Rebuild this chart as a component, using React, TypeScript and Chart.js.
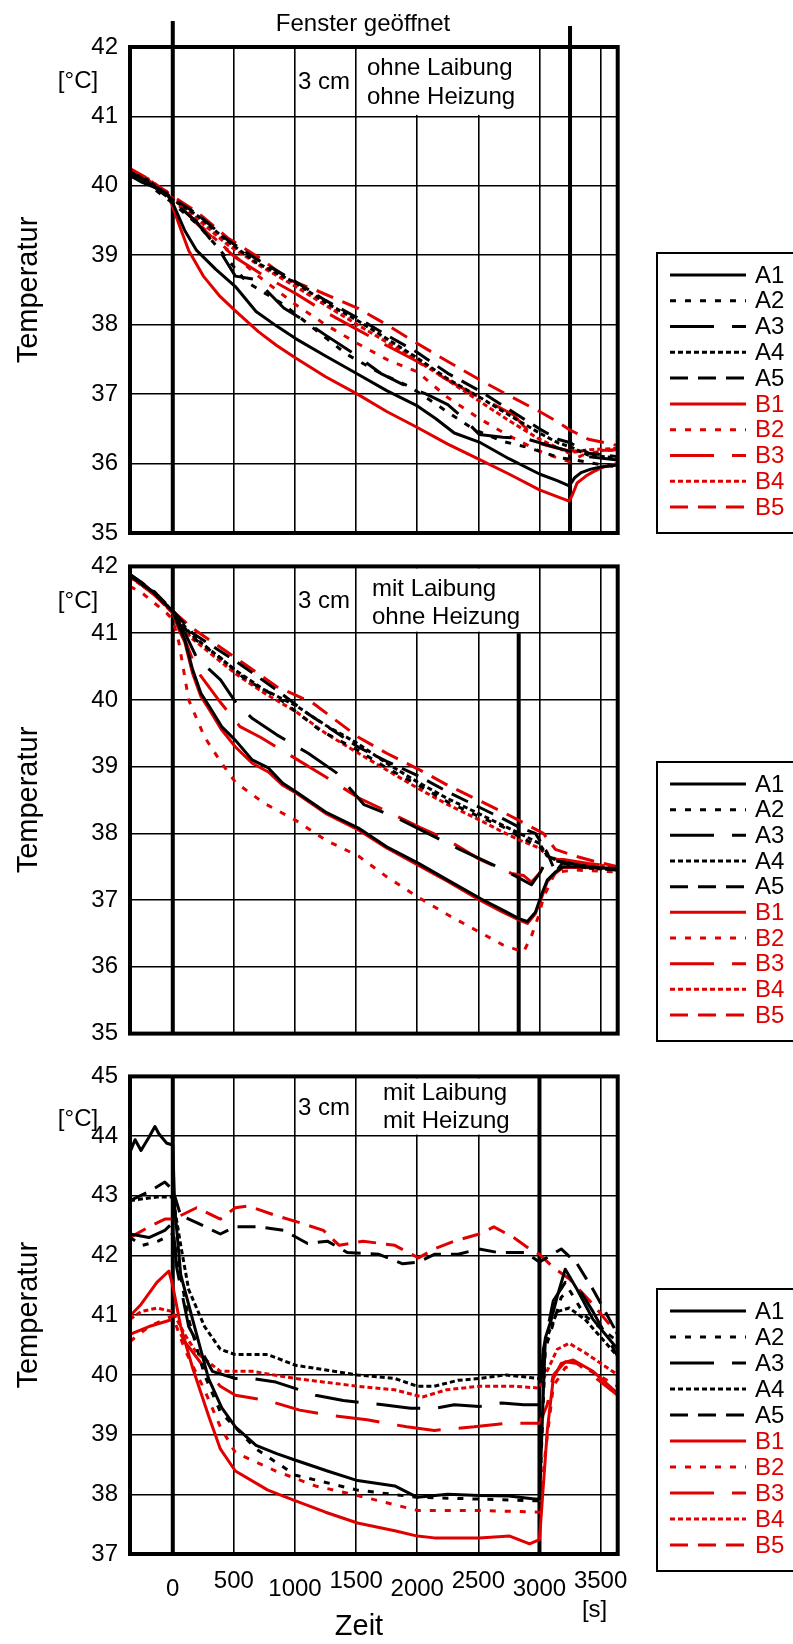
import React, { useEffect, useRef } from 'react';
import { Chart, registerables } from 'chart.js';

Chart.register(...registerables);

type Pt = [number, number];

const FONT = '"Liberation Sans", Arial, Helvetica, sans-serif';
const BLACK = '#000000';
const RED = '#e00000';

const SERIES_NAMES = ['A1', 'A2', 'A3', 'A4', 'A5', 'B1', 'B2', 'B3', 'B4', 'B5'];
const X_TICKS = [0, 500, 1000, 1500, 2000, 2500, 3000, 3500];
const X_TICK_LABELS = ['0', '500', '1000', '1500', '2000', '2500', '3000', '3500'];
const X_MIN = -350;
const X_MAX = 3640;

// ---------- Panel 1: ohne Laibung, ohne Heizung ----------
const P1_A1: Pt[] = [[-350,40.15],[-250,40.05],[-150,39.98],[-50,39.9],[0,39.75],[100,39.35],[195,39.07],[350,38.8],[512,38.55],[681,38.19],[850,37.98],[1005,37.8],[1250,37.55],[1511,37.29],[1750,37.05],[2001,36.83],[2150,36.65],[2303,36.44],[2507,36.31],[2750,36.07],[3000,35.85],[3150,35.75],[3243,35.68],[3290,35.8],[3340,35.87],[3420,35.92],[3502,35.95],[3640,35.98]];
const P1_A2: Pt[] = [[-350,40.15],[-200,40.02],[0,39.75],[200,39.45],[389,39.07],[600,38.62],[908,38.29],[1150,37.95],[1427,37.57],[1700,37.3],[1946,37.1],[2200,36.8],[2465,36.49],[2700,36.32],[2886,36.24],[3050,36.15],[3178,36.08],[3300,36.05],[3450,36.0],[3640,35.95]];
const P1_A3: Pt[] = [[-350,40.2],[-200,40.05],[0,39.78],[195,39.48],[389,39.05],[512,38.7],[681,38.65],[908,38.24],[1038,38.1],[1250,37.85],[1492,37.57],[1700,37.3],[1881,37.14],[2075,37.0],[2250,36.85],[2367,36.67],[2507,36.42],[2700,36.38],[2886,36.36],[3100,36.25],[3243,36.18],[3400,36.1],[3640,36.05]];
const P1_A4: Pt[] = [[-350,40.2],[-200,40.08],[0,39.8],[195,39.58],[450,39.2],[681,38.9],[1005,38.6],[1250,38.32],[1511,38.06],[1750,37.8],[2001,37.52],[2250,37.22],[2507,36.96],[2750,36.7],[3000,36.44],[3150,36.3],[3253,36.24],[3400,36.12],[3640,36.08]];
const P1_A5: Pt[] = [[-350,40.18],[-200,40.06],[0,39.82],[195,39.6],[450,39.22],[681,38.95],[1005,38.62],[1250,38.35],[1511,38.1],[1750,37.85],[2001,37.6],[2250,37.3],[2507,37.05],[2750,36.78],[3000,36.5],[3150,36.35],[3253,36.3],[3400,36.15],[3640,36.1]];
const P1_B1: Pt[] = [[-350,40.25],[-250,40.12],[-150,40.0],[-50,39.92],[0,39.7],[60,39.4],[130,39.07],[250,38.7],[380,38.42],[512,38.2],[700,37.9],[850,37.7],[1005,37.52],[1250,37.25],[1511,37.0],[1750,36.75],[2001,36.52],[2250,36.28],[2507,36.06],[2750,35.85],[3000,35.62],[3150,35.52],[3243,35.46],[3270,35.55],[3308,35.72],[3380,35.82],[3438,35.88],[3520,35.95],[3640,36.0]];
const P1_B2: Pt[] = [[-350,40.2],[-200,40.05],[0,39.8],[150,39.55],[389,39.17],[700,38.7],[1005,38.29],[1250,38.0],[1511,37.73],[1750,37.5],[2001,37.32],[2250,36.95],[2507,36.65],[2750,36.4],[3000,36.18],[3150,36.08],[3243,36.03],[3350,36.12],[3500,36.18],[3640,36.2]];
const P1_B3: Pt[] = [[-350,40.22],[-200,40.08],[0,39.82],[200,39.45],[519,38.96],[750,38.7],[1005,38.45],[1250,38.18],[1511,37.93],[1750,37.7],[2001,37.47],[2250,37.2],[2507,36.96],[2789,36.7],[3000,36.29],[3150,36.22],[3243,36.18],[3400,36.18],[3640,36.2]];
const P1_B4: Pt[] = [[-350,40.22],[-200,40.1],[0,39.82],[195,39.53],[450,39.15],[713,38.85],[1005,38.55],[1250,38.28],[1511,38.0],[1750,37.75],[2001,37.48],[2250,37.2],[2507,36.9],[2750,36.62],[3000,36.35],[3243,36.15],[3400,36.2],[3640,36.22]];
const P1_B5: Pt[] = [[-350,40.25],[-200,40.1],[0,39.85],[195,39.63],[450,39.25],[713,38.96],[950,38.65],[1167,38.5],[1511,38.24],[1750,38.0],[2001,37.73],[2250,37.47],[2507,37.21],[2750,36.98],[3000,36.75],[3150,36.6],[3243,36.49],[3400,36.35],[3640,36.26]];

// ---------- Panel 2: mit Laibung, ohne Heizung ----------
const P2_A1: Pt[] = [[-350,41.88],[-250,41.75],[-150,41.6],[-50,41.42],[0,41.32],[50,41.1],[98,40.9],[163,40.45],[230,40.1],[293,39.92],[400,39.6],[515,39.39],[650,39.1],[782,38.98],[900,38.75],[1011,38.62],[1250,38.32],[1519,38.08],[1750,37.8],[2011,37.55],[2250,37.3],[2520,37.02],[2700,36.85],[2836,36.72],[2901,36.68],[2967,36.82],[3020,37.1],[3064,37.3],[3130,37.42],[3195,37.5],[3358,37.5],[3640,37.47]];
const P2_A2: Pt[] = [[-350,41.86],[-150,41.6],[0,41.32],[150,40.95],[391,40.63],[600,40.3],[848,40.05],[1200,39.55],[1519,39.24],[1750,38.98],[2011,38.72],[2250,38.47],[2520,38.24],[2700,38.1],[2836,37.95],[3000,37.8],[3064,37.66],[3200,37.55],[3400,37.5],[3640,37.45]];
const P2_A3: Pt[] = [[-350,41.86],[-150,41.6],[0,41.32],[100,41.0],[196,40.63],[391,40.3],[520,39.95],[652,39.72],[848,39.48],[1108,39.2],[1337,38.91],[1565,38.43],[1826,38.24],[2086,38.0],[2347,37.76],[2608,37.54],[2836,37.33],[2934,37.23],[3000,37.4],[3064,37.61],[3195,37.57],[3400,37.5],[3640,37.45]];
const P2_A4: Pt[] = [[-350,41.87],[-150,41.6],[0,41.33],[150,40.98],[515,40.44],[750,40.15],[1011,39.91],[1250,39.62],[1519,39.34],[1750,39.05],[2011,38.76],[2250,38.52],[2520,38.28],[2700,38.12],[2836,38.0],[3000,37.85],[3064,37.66],[3200,37.55],[3400,37.48],[3640,37.45]];
const P2_A5: Pt[] = [[-350,41.88],[-150,41.62],[0,41.34],[163,41.0],[515,40.58],[848,40.15],[1100,39.8],[1519,39.29],[1750,39.08],[2011,38.86],[2250,38.62],[2520,38.38],[2700,38.22],[2836,38.09],[2967,38.0],[3064,37.71],[3130,37.42],[3195,37.57],[3400,37.5],[3640,37.45]];
const P2_B1: Pt[] = [[-350,41.85],[-250,41.72],[-150,41.57],[-50,41.4],[0,41.3],[50,41.05],[98,40.87],[163,40.39],[230,40.05],[293,39.87],[400,39.55],[515,39.29],[650,39.05],[782,38.92],[900,38.72],[1011,38.6],[1250,38.3],[1519,38.05],[1750,37.78],[2011,37.52],[2250,37.28],[2520,36.99],[2700,36.82],[2836,36.7],[2901,36.65],[2967,36.8],[3020,37.05],[3064,37.28],[3130,37.4],[3195,37.49],[3358,37.49],[3640,37.47]];
const P2_B2: Pt[] = [[-350,41.7],[-250,41.6],[-150,41.45],[-50,41.3],[0,41.2],[49,40.87],[130,40.0],[200,39.7],[261,39.44],[400,39.05],[515,38.76],[750,38.45],[1011,38.19],[1250,37.9],[1519,37.66],[1750,37.35],[2011,37.04],[2250,36.78],[2520,36.51],[2700,36.33],[2869,36.22],[2934,36.46],[3000,36.8],[3032,37.04],[3130,37.42],[3300,37.45],[3640,37.42]];
const P2_B3: Pt[] = [[-350,41.85],[-150,41.58],[0,41.3],[100,40.9],[196,40.44],[391,39.96],[550,39.6],[717,39.44],[978,39.15],[1239,38.86],[1532,38.52],[1695,38.38],[2021,38.09],[2249,37.9],[2510,37.61],[2771,37.4],[2869,37.37],[2934,37.27],[3000,37.4],[3064,37.61],[3195,37.61],[3400,37.55],[3640,37.5]];
const P2_B4: Pt[] = [[-350,41.84],[-150,41.58],[0,41.3],[150,40.93],[515,40.39],[750,40.1],[1011,39.82],[1250,39.5],[1519,39.2],[1750,38.95],[2011,38.67],[2250,38.43],[2520,38.19],[2700,38.02],[2836,37.9],[3000,37.78],[3064,37.66],[3250,37.55],[3640,37.5]];
const P2_B5: Pt[] = [[-350,41.86],[-150,41.6],[0,41.33],[163,41.07],[515,40.63],[848,40.2],[1141,39.96],[1519,39.44],[1750,39.2],[2011,38.96],[2250,38.72],[2520,38.48],[2700,38.32],[2836,38.19],[3032,38.0],[3130,37.76],[3293,37.66],[3450,37.58],[3640,37.5]];

// ---------- Panel 3: mit Laibung, mit Heizung ----------
const P3_A1: Pt[] = [[-350,43.73],[-308,43.94],[-260,43.76],[-195,43.98],[-146,44.16],[-114,44.04],[-49,43.88],[0,43.85],[16,42.8],[65,41.68],[162,40.93],[292,39.94],[400,39.45],[512,39.13],[681,38.82],[850,38.68],[1005,38.57],[1265,38.39],[1511,38.23],[1816,38.14],[2001,37.95],[2250,38.0],[2507,37.98],[2750,37.97],[2960,37.92],[3000,37.92],[3048,40.62],[3097,40.93],[3150,41.35],[3211,41.77],[3308,41.43],[3438,40.93],[3640,40.43]];
const P3_A2: Pt[] = [[-350,42.3],[-250,42.17],[-120,42.24],[0,42.36],[50,41.8],[130,40.93],[260,40.0],[389,39.38],[681,38.76],[1005,38.32],[1511,38.07],[2001,37.95],[2507,37.92],[3000,37.89],[3048,40.43],[3178,41.3],[3243,41.43],[3373,40.99],[3640,40.56]];
const P3_A3: Pt[] = [[-350,42.36],[-195,42.3],[-65,42.42],[0,42.55],[32,41.8],[130,40.81],[324,40.06],[512,39.94],[652,39.94],[843,39.88],[1038,39.75],[1167,39.66],[1395,39.57],[1719,39.5],[1946,39.44],[2140,39.44],[2303,39.5],[2507,39.47],[2692,39.53],[2870,39.5],[3000,39.5],[3032,40.43],[3113,41.24],[3211,41.55],[3308,41.49],[3438,41.06],[3640,40.31]];
const P3_A4: Pt[] = [[-350,42.92],[-130,42.98],[0,42.98],[65,42.17],[130,41.43],[260,40.81],[389,40.43],[512,40.34],[778,40.34],[1005,40.16],[1511,40.0],[1816,39.94],[2001,39.81],[2140,39.81],[2335,39.91],[2507,39.94],[2724,40.0],[3000,39.94],[3048,40.56],[3146,41.06],[3243,41.12],[3373,40.93],[3640,40.31]];
const P3_A5: Pt[] = [[-350,42.92],[-195,43.07],[-65,43.23],[0,43.1],[65,42.67],[195,42.55],[389,42.36],[512,42.48],[713,42.48],[908,42.42],[1103,42.2],[1265,42.24],[1427,42.05],[1686,42.02],[1881,41.86],[2011,41.89],[2140,42.02],[2335,42.02],[2507,42.11],[2660,42.05],[2886,42.05],[3000,41.89],[3178,42.11],[3308,41.86],[3438,41.43],[3640,40.68]];
const P3_B1: Pt[] = [[-350,40.99],[-260,41.18],[-130,41.55],[-32,41.74],[0,41.49],[65,40.81],[162,40.12],[292,39.32],[389,38.76],[512,38.39],[778,38.07],[1005,37.89],[1250,37.7],[1511,37.52],[1816,37.39],[2001,37.3],[2140,37.27],[2507,37.27],[2757,37.3],[2919,37.17],[3000,37.24],[3064,39.07],[3113,39.94],[3178,40.19],[3276,40.25],[3438,40.06],[3640,39.69]];
const P3_B2: Pt[] = [[-350,40.56],[-195,40.81],[0,40.99],[97,40.43],[259,39.75],[389,39.13],[512,38.7],[843,38.39],[1167,38.14],[1511,37.98],[2001,37.73],[2507,37.73],[3000,37.7],[3048,38.7],[3113,39.81],[3211,40.12],[3308,40.19],[3640,39.81]];
const P3_B3: Pt[] = [[-350,40.68],[-195,40.81],[0,40.93],[97,40.56],[259,40.12],[389,39.81],[512,39.66],[778,39.57],[1038,39.41],[1297,39.32],[1589,39.25],[1913,39.13],[2140,39.07],[2465,39.13],[2724,39.19],[3000,39.19],[3064,39.5],[3113,40.0],[3211,40.22],[3308,40.19],[3640,39.66]];
const P3_B4: Pt[] = [[-350,40.93],[-260,41.06],[-130,41.12],[0,41.06],[97,40.68],[195,40.37],[389,40.06],[648,40.06],[1005,39.94],[1511,39.81],[1816,39.75],[2043,39.63],[2238,39.75],[2507,39.81],[2790,39.81],[3000,39.78],[3048,40.0],[3146,40.43],[3243,40.53],[3373,40.37],[3640,40.0]];
const P3_B5: Pt[] = [[-350,42.3],[-195,42.48],[-65,42.61],[0,42.61],[65,42.67],[195,42.8],[389,42.61],[512,42.8],[616,42.83],[843,42.67],[1038,42.55],[1232,42.42],[1362,42.17],[1557,42.24],[1816,42.17],[2011,41.96],[2140,42.11],[2303,42.24],[2507,42.36],[2627,42.48],[2789,42.3],[2919,42.11],[3000,42.02],[3113,41.8],[3243,41.61],[3438,41.18],[3640,40.68]];

// line dash per series number
const DASHES: Record<string, number[]> = {
  '1': [],
  '2': [6, 9],
  '3': [44, 18],
  '4': [5, 3],
  '5': [18, 10],
};

interface PanelCfg {
  id: string;
  top: number;
  height: number;
  plotTop: number;
  plotBottom: number;
  yMin: number;
  yMax: number;
  closeAt: number;
  line1: string;
  line2: string;
  textX: number;
  textY1: number;
  textY2: number;
  cmY: number;
  unitY: number;
  legendTop: number;
  legendBottom: number;
  series: Pt[][];
  title: boolean;
  xLabels: boolean;
}

const PANELS: PanelCfg[] = [
  {
    id: 'p1', top: 0, height: 560, plotTop: 47, plotBottom: 533, yMin: 35, yMax: 42, closeAt: 3250,
    line1: 'ohne Laibung', line2: 'ohne Heizung', textX: 367, textY1: 21, textY2: 50, cmY: 35, unitY: 34,
    legendTop: 253, legendBottom: 533,
    series: [P1_A1, P1_A2, P1_A3, P1_A4, P1_A5, P1_B1, P1_B2, P1_B3, P1_B4, P1_B5],
    title: true, xLabels: false,
  },
  {
    id: 'p2', top: 540, height: 520, plotTop: 15, plotBottom: 501, yMin: 35, yMax: 42, closeAt: 2830,
    line1: 'mit Laibung', line2: 'ohne Heizung', textX: 372, textY1: 23, textY2: 51, cmY: 35, unitY: 35,
    legendTop: 222, legendBottom: 501,
    series: [P2_A1, P2_A2, P2_A3, P2_A4, P2_A5, P2_B1, P2_B2, P2_B3, P2_B4, P2_B5],
    title: false, xLabels: false,
  },
  {
    id: 'p3', top: 1050, height: 594, plotTop: 18, plotBottom: 504, yMin: 37, yMax: 45, closeAt: 3000,
    line1: 'mit Laibung', line2: 'mit Heizung', textX: 383, textY1: 17, textY2: 45, cmY: 32, unitY: 43,
    legendTop: 239, legendBottom: 521,
    series: [P3_A1, P3_A2, P3_A3, P3_A4, P3_A5, P3_B1, P3_B2, P3_B3, P3_B4, P3_B5],
    title: false, xLabels: true,
  },
];

const PAGE_W = 793;
const PLOT_RIGHT = 617.7;
const Y_AXIS_W = 130;

function makePlugin(cfg: PanelCfg) {
  return {
    id: 'deco_' + cfg.id,
    beforeDatasetsDraw(chart: any) {
      const { ctx, chartArea, scales } = chart;
      const { top, bottom } = chartArea;
      const x = scales.x;
      const y = scales.y;
      ctx.save();
      // white label box (hides grid between 1500 and 3000 in the top row)
      const bx1 = x.getPixelForValue(1500) + 1.5;
      const bx2 = x.getPixelForValue(3000) - 1.5;
      const by2 = y.getPixelForValue(cfg.yMax - 1) - 1.5;
      ctx.fillStyle = '#ffffff';
      ctx.fillRect(bx1, top + 2, bx2 - bx1, by2 - top - 2);
      // thick "window" lines
      ctx.strokeStyle = BLACK;
      ctx.lineWidth = 4;
      const x0 = x.getPixelForValue(0);
      const xc = x.getPixelForValue(cfg.closeAt);
      const closeInBox = cfg.closeAt > 1500 && cfg.closeAt < 3000;
      ctx.beginPath();
      ctx.moveTo(x0, cfg.title ? 21 : top);
      ctx.lineTo(x0, bottom);
      ctx.moveTo(xc, cfg.title ? 26 : closeInBox ? by2 + 1.5 : top);
      ctx.lineTo(xc, bottom);
      ctx.stroke();
      ctx.restore();
    },
    afterDraw(chart: any) {
      const { ctx, chartArea, scales } = chart;
      const { left, right, top, bottom } = chartArea;
      const x = scales.x;
      ctx.save();
      // frame
      ctx.strokeStyle = BLACK;
      ctx.lineWidth = 4;
      ctx.strokeRect(left, top, right - left, bottom - top);

      ctx.fillStyle = BLACK;
      ctx.textBaseline = 'middle';
      ctx.font = `24px ${FONT}`;
      // box texts
      ctx.textAlign = 'left';
      ctx.fillText('3 cm', x.getPixelForValue(1000) + 3, top + cfg.cmY);
      ctx.fillText(cfg.line1, cfg.textX, top + cfg.textY1);
      ctx.fillText(cfg.line2, cfg.textX, top + cfg.textY2);
      // unit
      ctx.textAlign = 'center';
      ctx.fillText('[°C]', 78, top + cfg.unitY);
      // title
      if (cfg.title) {
        ctx.fillText('Fenster geöffnet', 363, 24);
      }
      // y title
      ctx.save();
      ctx.translate(29, (top + bottom) / 2);
      ctx.rotate(-Math.PI / 2);
      ctx.font = `29px ${FONT}`;
      ctx.fillText('Temperatur', 0, 0);
      ctx.restore();
      // x labels
      if (cfg.xLabels) {
        ctx.font = `24px ${FONT}`;
        X_TICKS.forEach((v, i) => {
          const low = v % 1000 === 0;
          ctx.fillText(X_TICK_LABELS[i], x.getPixelForValue(v), bottom + (low ? 35 : 27));
        });
        ctx.fillText('[s]', x.getPixelForValue(3500) - 6, bottom + 56);
        ctx.font = `29px ${FONT}`;
        ctx.fillText('Zeit', 359, bottom + 73);
      }
      // legend
      const lt = cfg.legendTop;
      const lb = cfg.legendBottom;
      ctx.lineWidth = 2;
      ctx.strokeStyle = BLACK;
      ctx.setLineDash([]);
      ctx.strokeRect(657, lt, 200, lb - lt);
      const step = (lb - lt - 48) / 9;
      ctx.font = `24px ${FONT}`;
      ctx.textAlign = 'left';
      chart.data.datasets.forEach((ds: any, i: number) => {
        const ry = lt + 22 + i * step;
        ctx.strokeStyle = ds.borderColor;
        ctx.lineWidth = 3;
        ctx.lineCap = 'butt';
        ctx.setLineDash(ds.borderDash || []);
        ctx.beginPath();
        ctx.moveTo(670, ry);
        ctx.lineTo(746, ry);
        ctx.stroke();
        ctx.setLineDash([]);
        ctx.fillStyle = ds.borderColor;
        ctx.fillText(ds.label, 755, ry + 1);
      });
      ctx.restore();
    },
  };
}

function Panel({ cfg }: { cfg: PanelCfg }) {
  const ref = useRef<HTMLCanvasElement>(null);
  useEffect(() => {
    const canvas = ref.current;
    if (!canvas) return;
    const chart = new Chart(canvas, {
      type: 'line',
      data: {
        datasets: SERIES_NAMES.map((name, i) => ({
          label: name,
          data: cfg.series[i].map(([t, v]) => ({ x: t, y: v })),
          borderColor: name[0] === 'A' ? BLACK : RED,
          backgroundColor: name[0] === 'A' ? BLACK : RED,
          borderWidth: 3,
          borderDash: DASHES[name[1]],
          borderCapStyle: 'butt',
          borderJoinStyle: 'round',
          pointRadius: 0,
          tension: 0,
          fill: false,
        })),
      },
      options: {
        responsive: false,
        animation: false,
        devicePixelRatio: 1,
        events: [],
        layout: { padding: { top: cfg.plotTop, right: PAGE_W - PLOT_RIGHT, left: 0, bottom: 0 } },
        plugins: {
          legend: { display: false },
          tooltip: { enabled: false },
          title: { display: false },
        },
        scales: {
          x: {
            type: 'linear',
            min: X_MIN,
            max: X_MAX,
            afterBuildTicks: (s: any) => {
              s.ticks = X_TICKS.map((v) => ({ value: v }));
            },
            ticks: { display: false },
            grid: { color: BLACK, lineWidth: 1.6, drawTicks: false },
            border: { display: false },
            afterFit: (s: any) => {
              s.height = cfg.height - cfg.plotBottom;
            },
          },
          y: {
            type: 'linear',
            min: cfg.yMin,
            max: cfg.yMax,
            ticks: { stepSize: 1, color: BLACK, font: { family: FONT, size: 24 }, padding: 12 },
            grid: { color: BLACK, lineWidth: 1.6, drawTicks: false },
            border: { display: false },
            afterFit: (s: any) => {
              s.width = Y_AXIS_W;
            },
          },
        },
      } as any,
      plugins: [makePlugin(cfg)],
    });
    return () => chart.destroy();
  }, [cfg]);
  return (
    <canvas
      ref={ref}
      width={PAGE_W}
      height={cfg.height}
      style={{ position: 'absolute', left: 0, top: cfg.top, width: PAGE_W, height: cfg.height }}
    />
  );
}

export default function App() {
  return (
    <div style={{ position: 'absolute', left: 0, top: 0, width: PAGE_W, height: 1644, background: '#ffffff', overflow: 'hidden' }}>
      {PANELS.map((p) => (
        <Panel key={p.id} cfg={p} />
      ))}
    </div>
  );
}
